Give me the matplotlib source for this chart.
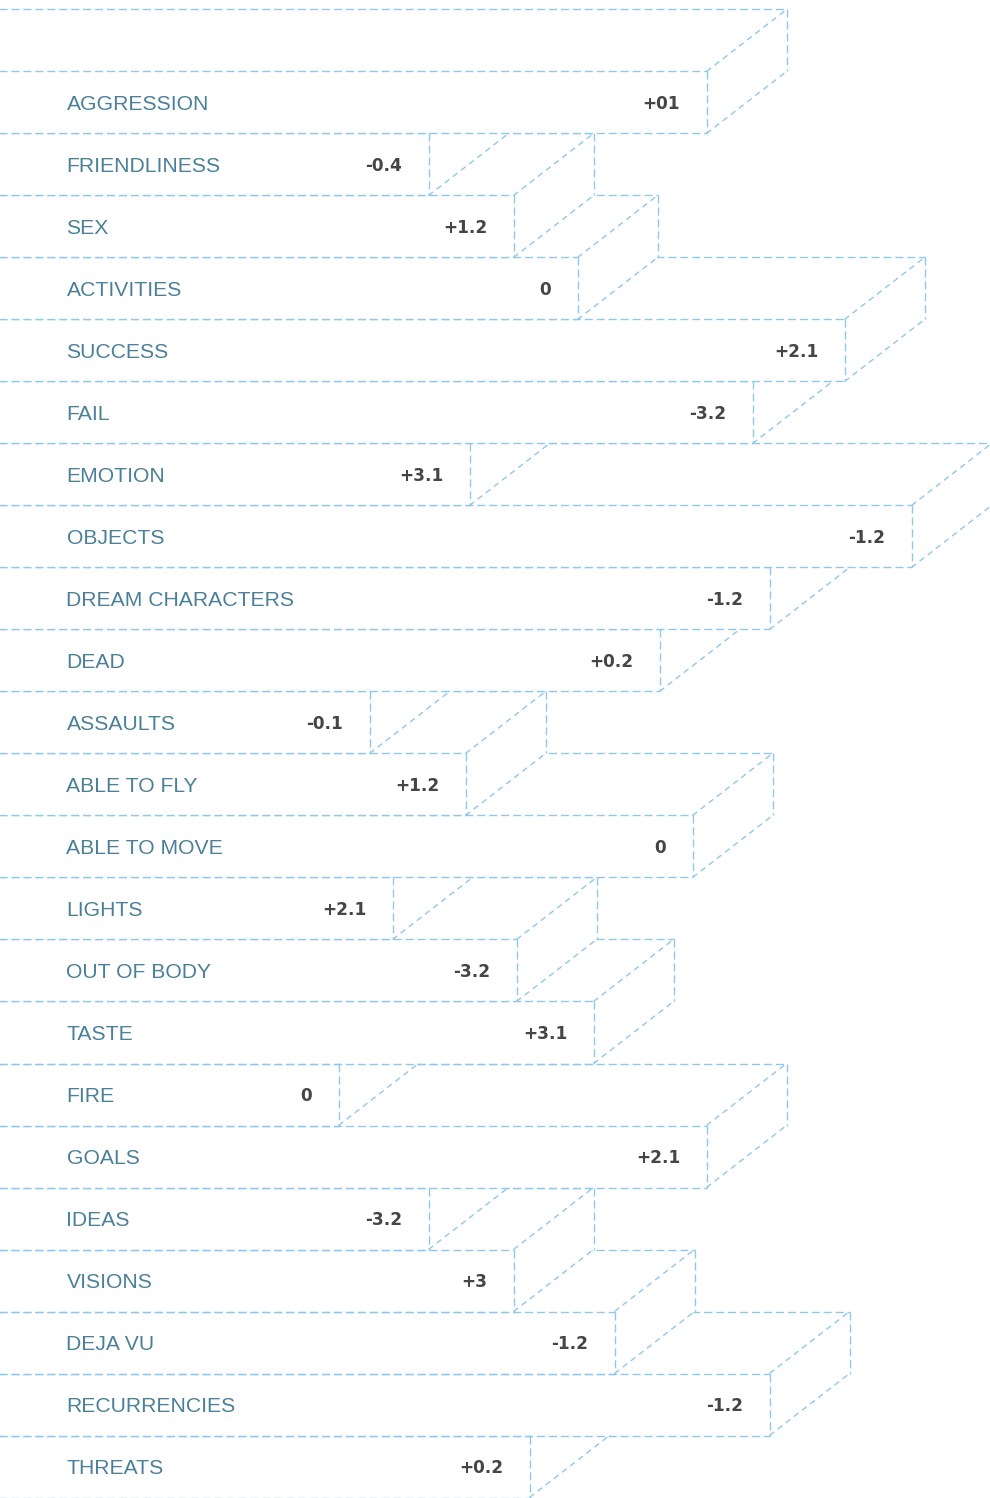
import matplotlib.pyplot as plt
from matplotlib.patches import Polygon

# rows from top to bottom
categories = ["AGGRESSION", "FRIENDLINESS", "SEX", "ACTIVITIES", "SUCCESS", "FAIL",
              "EMOTION", "OBJECTS", "DREAM CHARACTERS", "DEAD", "ASSAULTS",
              "ABLE TO FLY", "ABLE TO MOVE", "LIGHTS", "OUT OF BODY", "TASTE",
              "FIRE", "GOALS", "IDEAS", "VISIONS", "DEJA VU", "RECURRENCIES", "THREATS"]
lengths = [706, 428, 513, 577, 844, 752, 469, 911, 769, 659, 369,
           465, 692, 392, 516, 593, 338, 706, 428, 513, 614, 769, 529]
scores = ["+01", "-0.4", "+1.2", "0", "+2.1", "-3.2", "+3.1", "-1.2", "-1.2", "+0.2", "-0.1",
          "+1.2", "0", "+2.1", "-3.2", "+3.1", "0", "+2.1", "-3.2", "+3", "-1.2", "-1.2", "+0.2"]

W, H = 990, 1498
row_px = 62
top_px = 71.5   # centre of the first row line on a pixel
depth = 80      # extrusion to the right (px), one row up
x0 = -100       # bars start off the left edge

fig = plt.figure(figsize=(W / 100, H / 100), dpi=100)
ax = fig.add_axes([0, 0, 1, 1])
ax.set_xlim(-0.5, W - 0.5)
ax.set_ylim((H - top_px) / row_px, -top_px / row_px)
ax.axis("off")

line_col = "#8fc8ec"
hv = dict(color=line_col, lw=1.0, linestyle=(0, (5.8, 2.8)), solid_capstyle="butt")
diag = dict(color=line_col, lw=1.0, linestyle=(0, (4.2, 3.2)))

n = len(categories)
for i in range(n - 1, -1, -1):
    R = lengths[i]
    z = 10 + 3 * (n - i)
    shape = [(x0, i + 1), (R, i + 1), (R + depth, i), (R + depth, i - 1), (x0, i - 1)]
    ax.add_patch(Polygon(shape, closed=True, facecolor="white", edgecolor="none", zorder=z))
    # front face
    ax.plot([x0, R], [i, i], zorder=z + 1, **hv)
    ax.plot([x0, R], [i + 1, i + 1], zorder=z + 1, **hv)
    ax.plot([R, R], [i, i + 1], zorder=z + 1, **hv)
    # top / right faces
    ax.plot([x0, R + depth], [i - 1, i - 1], zorder=z + 1, **hv)
    ax.plot([R + depth, R + depth], [i - 1, i], zorder=z + 1, **hv)
    ax.plot([R, R + depth], [i, i - 1], zorder=z + 1, **diag)
    ax.plot([R, R + depth], [i + 1, i], zorder=z + 1, **diag)

    ax.annotate(categories[i], xy=(66, i + 0.5), xytext=(0, -5.4), textcoords="offset points",
                ha="left", va="baseline", fontsize=15.2, family="Liberation Sans",
                color="#4b8098", zorder=500)
    ax.annotate(scores[i], xy=(R, i + 0.5), xytext=(-19, -4.4), textcoords="offset points",
                ha="right", va="baseline", fontsize=12.2, fontweight="bold",
                family="DejaVu Sans", color="#454545", zorder=500)

fig.savefig("out.png", dpi=100, facecolor="white")
